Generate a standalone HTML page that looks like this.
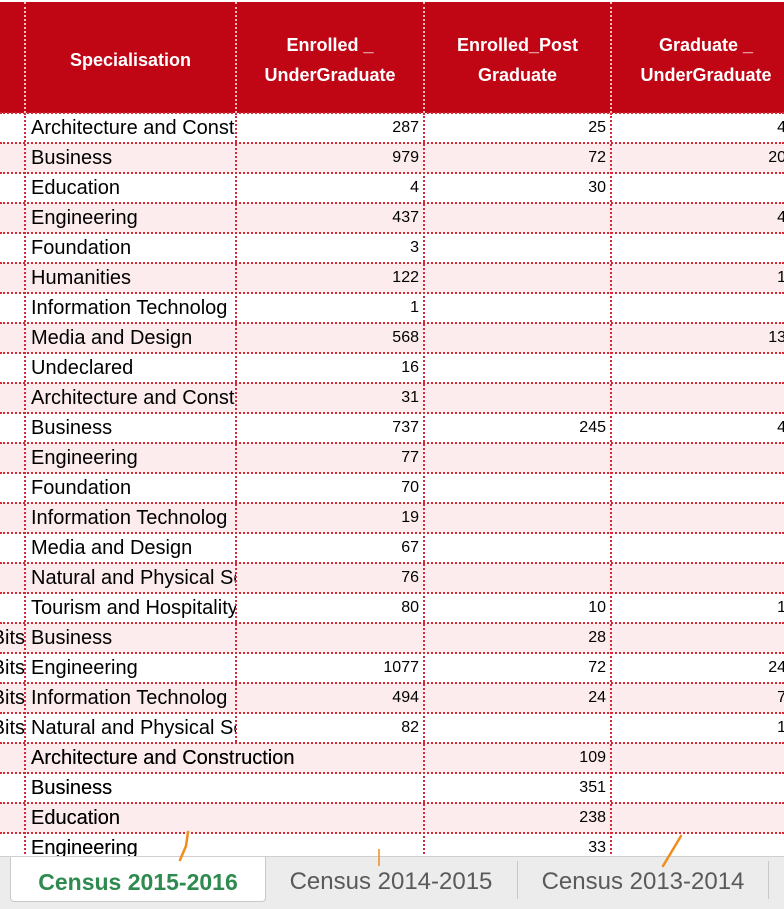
<!DOCTYPE html>
<html><head><meta charset="utf-8">
<style>
html,body{margin:0;padding:0;}
body{width:784px;height:908px;overflow:hidden;position:relative;background:#fff;font-family:"Liberation Sans",sans-serif;}
#sheet{position:absolute;left:0;top:0;width:784px;height:856px;overflow:hidden;}
.cell{position:absolute;box-sizing:border-box;overflow:hidden;white-space:nowrap;font-size:20px;line-height:30px;color:#000;}
.hdr{position:absolute;box-sizing:border-box;background:#c00515;color:#fff;font-weight:bold;font-size:18px;line-height:30px;text-align:center;display:flex;align-items:center;justify-content:center;}
.num{text-align:right;padding-right:5px;font-size:16px;}
.vl{position:absolute;top:0;width:0;border-left:2px dotted #d42a36;}
.hl{position:absolute;left:0;width:784px;height:0;border-top:2px dotted #d42a36;}
#tabs{position:absolute;left:0;top:856px;width:784px;height:52px;background:#ececec;border-top:1px solid #cfcfcf;}
.tab{position:absolute;top:0;height:44px;line-height:50px;font-size:24px;text-align:center;color:#5a5a5a;}
</style></head><body>
<div id="sheet"></div>
<div id="tabs">
  <div class="tab" style="left:10px;width:254px;background:#fff;border:1px solid #c8c8c8;border-top:none;border-radius:0 0 4px 4px;color:#2e8a4e;font-weight:bold;font-size:23px;">Census 2015-2016</div>
  <div class="tab" style="left:266px;width:250px;">Census 2014-2015</div>
  <div style="position:absolute;left:517px;top:4px;height:38px;border-left:1px solid #c8c8c8;"></div>
  <div class="tab" style="left:518px;width:250px;">Census 2013-2014</div>
  <div style="position:absolute;left:768px;top:4px;height:38px;border-left:1px solid #c8c8c8;"></div>
</div>
<svg style="position:absolute;left:0;top:0" width="784" height="908">
<path d="M188 832 L186 846 L180 860" stroke="#f28c1c" stroke-width="2.5" fill="none" stroke-linecap="round"/>
<path d="M379 849 L379 866" stroke="#f28c1c" stroke-width="1.5" fill="none"/>
<path d="M681 836 L663 866" stroke="#f28c1c" stroke-width="2.5" fill="none" stroke-linecap="round"/>
</svg>
<script>
const names=["Architecture and Const","Business","Education","Engineering","Foundation","Humanities","Information Technolog","Media and Design","Undeclared","Architecture and Const","Business","Engineering","Foundation","Information Technolog","Media and Design","Natural and Physical Sc","Tourism and Hospitality","Business","Engineering","Information Technolog","Natural and Physical Sc","Architecture and Construction","Business","Education","Engineering"];
const colA=["","","","","","","","","","","","","","","","","","Bits","Bits","Bits","Bits","","","",""];
const enrolledUG=[287,979,4,437,3,122,1,568,16,31,737,77,70,19,67,76,80,null,1077,494,82,null,null,null,null];
const enrolledPG=[25,72,30,null,null,null,null,null,null,null,245,null,null,null,null,null,10,28,72,24,null,109,351,238,33];
const graduateUG=[4,20,null,4,null,1,null,13,null,null,4,null,null,null,null,null,1,null,24,7,1,null,null,null,null];
const headers=["Specialisation","Enrolled _<br>UnderGraduate","Enrolled_Post<br>Graduate","Graduate _<br>UnderGraduate"];
const sheet=document.getElementById('sheet');
const colX=[0,25,236,424,611,791];
const top0=113,rowH=30;
const band=document.createElement('div');


band.className='hdr';band.style.cssText='left:0;top:2px;width:784px;height:111px;';
sheet.appendChild(band);
for(let c=0;c<4;c++){
  const h=document.createElement('div');
  
  
  h.className='hdr';
  const w=c===3?190:(colX[c+2]-colX[c+1]);
  h.style.left=colX[c+1]+'px';h.style.top='4px';h.style.width=w+'px';h.style.height='111px';
  h.innerHTML=headers[c];
  sheet.appendChild(h);
}
for(let r=0;r<names.length;r++){
  const y=top0+r*rowH;
  const bg=document.createElement('div');
  
  
  bg.style.cssText='position:absolute;left:0;width:784px;top:'+y+'px;height:'+rowH+'px;background:'+(r%2?'#fdeced':'#fff');
  sheet.appendChild(bg);
  const a=document.createElement('div');
  
  
  a.className='cell';a.style.cssText='left:0;top:'+y+'px;width:25px;height:30px;direction:rtl;text-align:left;';
  a.textContent=colA[r];sheet.appendChild(a);
  const b=document.createElement('div');
  
  
  b.className='cell';
  const wide=enrolledUG[r]===null&&r>=21;
  b.style.cssText='left:25px;top:'+y+'px;width:'+(wide?400:211)+'px;height:30px;padding-left:6px;';
  b.textContent=names[r];sheet.appendChild(b);
  const vals=[enrolledUG[r],enrolledPG[r],graduateUG[r]];
  for(let c=0;c<3;c++){
    const d=document.createElement('div');
    
    
    d.className='cell num';
    d.style.left=colX[c+2]+'px';d.style.top=y+'px';d.style.width=(colX[c+3]-colX[c+2])+'px';d.style.height='30px';
    d.textContent=vals[c]===null?'':vals[c];
    sheet.appendChild(d);
  }
  const hl=document.createElement('div');
  
  
  hl.className='hl';hl.style.top=(y-1)+'px';
  sheet.appendChild(hl);
}
for(let c=1;c<5;c++){
  const v=document.createElement('div');
  
  
  v.className='vl';v.style.left=(colX[c]-1)+'px';v.style.top='113px';v.style.height='760px';
  sheet.appendChild(v);
  const vh=document.createElement('div');
  
  
  vh.className='vl';vh.style.left=(colX[c]-1)+'px';vh.style.top='2px';vh.style.height='111px';vh.style.borderLeftColor='#f3b8bc';
  sheet.appendChild(vh);
}
for(let r=21;r<25;r++){
  const cov=document.createElement('div');
  
  
  cov.style.cssText='position:absolute;left:233px;width:6px;top:'+(top0+r*rowH+1)+'px;height:28px;background:'+(r%2?'#fdeced':'#fff');
  sheet.appendChild(cov);
  const t=document.createElement('div');
  
  
  t.className='cell';t.style.cssText='left:25px;top:'+(top0+r*rowH)+'px;width:400px;height:30px;padding-left:6px;';
  t.textContent=names[r];sheet.appendChild(t);
}
</script>
</body></html>
